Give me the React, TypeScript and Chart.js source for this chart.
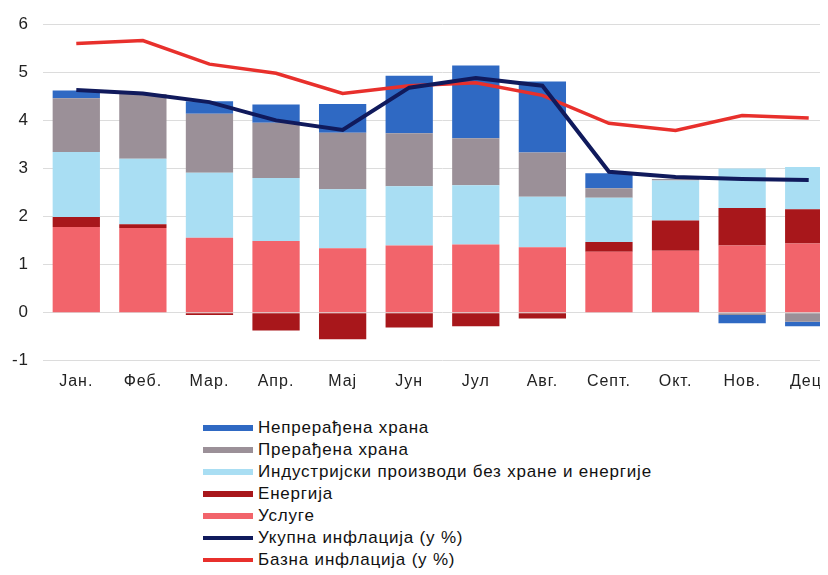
import React, { useEffect, useRef } from "react";
import { Chart, registerables } from "chart.js";

Chart.register(...registerables);

const months = ["Јан.", "Феб.", "Мар.", "Апр.", "Мај", "Јун", "Јул", "Авг.", "Септ.", "Окт.", "Нов.", "Дец."];
const unprocessedFood = [0.16, 0.0, 0.26, 0.38, 0.6, 1.2, 1.51, 1.48, 0.31, 0.0, -0.17, -0.09];
const processedFood = [1.12, 1.35, 1.23, 1.15, 1.17, 1.1, 0.98, 0.92, 0.2, 0.03, -0.05, -0.19];
const industrial = [1.35, 1.36, 1.35, 1.31, 1.23, 1.23, 1.23, 1.05, 0.92, 0.83, 0.82, 0.88];
const energy = [0.21, 0.08, -0.05, -0.37, -0.55, -0.31, -0.28, -0.12, 0.2, 0.63, 0.78, 0.71];
const services = [1.78, 1.76, 1.56, 1.49, 1.34, 1.4, 1.42, 1.36, 1.27, 1.29, 1.4, 1.44];
const totalInflation = [4.63, 4.56, 4.38, 4.0, 3.8, 4.68, 4.88, 4.72, 2.93, 2.82, 2.78, 2.76];
const coreInflation = [5.6, 5.66, 5.17, 4.98, 4.56, 4.72, 4.78, 4.52, 3.94, 3.79, 4.1, 4.05];

const C_UNPROC = "#2f69c3";
const C_PROC = "#9b9098";
const C_IND = "#a9def3";
const C_ENERGY = "#a8171b";
const C_SERV = "#f2646b";
const C_TOTAL = "#101a5c";
const C_CORE = "#e8302c";

const legendItems = [
  { label: "Непрерађена храна", color: C_UNPROC, h: 6 },
  { label: "Прерађена храна", color: C_PROC, h: 6 },
  { label: "Индустријски производи без хране и енергије", color: C_IND, h: 6 },
  { label: "Енергија", color: C_ENERGY, h: 6 },
  { label: "Услуге", color: C_SERV, h: 6 },
  { label: "Укупна инфлација (у %)", color: C_TOTAL, h: 4 },
  { label: "Базна инфлација (у %)", color: C_CORE, h: 4 },
];

const spacingPlugin = {
  id: "spacing",
  beforeDraw(chart: any) {
    try {
      chart.ctx.letterSpacing = "1px";
    } catch (e) {}
  },
};

export default function App() {
  const ref = useRef<HTMLCanvasElement | null>(null);

  useEffect(() => {
    if (!ref.current) return;
    const bar = (label: string, data: number[], color: string) => ({
      type: "bar" as const,
      label,
      data,
      backgroundColor: color,
      borderWidth: 0,
      stack: "bars",
      order: 2,
      barPercentage: 0.71,
      categoryPercentage: 1,
    });
    const chart = new Chart(ref.current, {
      type: "bar",
      data: {
        labels: months,
        datasets: [
          bar("Услуге", services, C_SERV),
          bar("Енергија", energy, C_ENERGY),
          bar("Индустријски производи без хране и енергије", industrial, C_IND),
          bar("Прерађена храна", processedFood, C_PROC),
          bar("Непрерађена храна", unprocessedFood, C_UNPROC),
          {
            type: "line" as const,
            label: "Укупна инфлација (у %)",
            data: totalInflation,
            borderColor: C_TOTAL,
            backgroundColor: C_TOTAL,
            borderWidth: 4,
            pointRadius: 0,
            tension: 0,
            stack: "total",
            order: 0,
          },
          {
            type: "line" as const,
            label: "Базна инфлација (у %)",
            data: coreInflation,
            borderColor: C_CORE,
            backgroundColor: C_CORE,
            borderWidth: 3.5,
            pointRadius: 0,
            tension: 0,
            stack: "core",
            order: 1,
          },
        ] as any,
      },
      options: {
        animation: false,
        responsive: false,
        layout: { padding: { top: 23, bottom: 11, left: 0, right: 0 } },
        plugins: { legend: { display: false }, tooltip: { enabled: false } },
        scales: {
          x: {
            stacked: true,
            grid: { display: false, drawTicks: false },
            border: { display: false },
            ticks: {
              color: "#222",
              padding: 11,
              font: { family: "'Liberation Sans', Arial, sans-serif", size: 16 },
            },
          },
          y: {
            stacked: true,
            min: -1,
            max: 6,
            afterFit: (s: any) => {
              s.width = 43;
            },
            grid: { color: "#dcdcdc", lineWidth: 1, drawTicks: false },
            border: { display: false },
            ticks: {
              stepSize: 1,
              color: "#222",
              padding: 14,
              font: { family: "'Liberation Sans', Arial, sans-serif", size: 17 },
            },
          },
        },
      },
      plugins: [spacingPlugin],
    });
    return () => chart.destroy();
  }, []);

  return (
    <div
      style={{
        position: "relative",
        margin: "-8px -8px 0 -8px",
        width: 828,
        height: 575,
        overflow: "hidden",
        background: "#fff",
      }}
    >
      <canvas ref={ref} width={842} height={413} style={{ position: "absolute", left: 0, top: 0, width: 842, height: 413 }} />
      <div
        style={{
          position: "absolute",
          left: 203,
          top: 417,
          fontFamily: "'Liberation Sans', Arial, sans-serif",
          fontSize: 17,
          letterSpacing: "0.8px",
          color: "#111",
        }}
      >
        {legendItems.map((it) => (
          <div key={it.label} style={{ display: "flex", alignItems: "center", height: 22, lineHeight: "22px", whiteSpace: "nowrap" }}>
            <span style={{ display: "inline-block", width: 50, height: it.h, background: it.color, marginRight: 5 }} />
            <span>{it.label}</span>
          </div>
        ))}
      </div>
    </div>
  );
}
